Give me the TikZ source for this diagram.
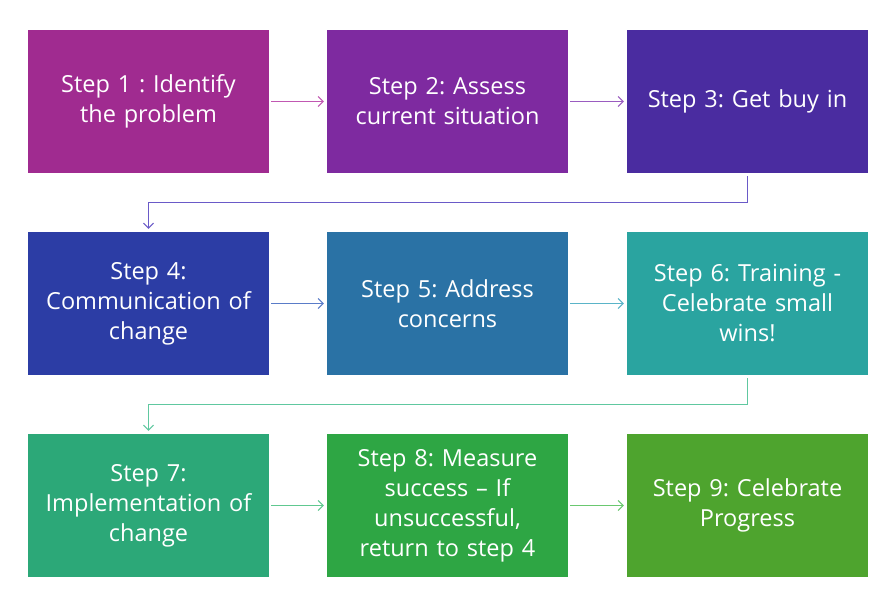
\documentclass[tikz,border=0pt]{standalone}
\usepackage{fontspec}
\setmainfont{Open Sans}
\usetikzlibrary{arrows.meta}
\definecolor{c1}{HTML}{A02B90}
\definecolor{c2}{HTML}{7E2AA0}
\definecolor{c3}{HTML}{4A2CA0}
\definecolor{c4}{HTML}{2C3DA5}
\definecolor{c5}{HTML}{2A72A5}
\definecolor{c6}{HTML}{2AA4A0}
\definecolor{c7}{HTML}{2CA878}
\definecolor{c8}{HTML}{2EA644}
\definecolor{c9}{HTML}{4EA42E}
\definecolor{a1}{HTML}{C158B2}
\definecolor{a2}{HTML}{9A5CC0}
\definecolor{a3}{HTML}{6A5AC8}
\definecolor{a4}{HTML}{5A7CC8}
\definecolor{a5}{HTML}{5AB4C8}
\definecolor{a6}{HTML}{60C8A0}
\definecolor{a7}{HTML}{60C890}
\definecolor{a8}{HTML}{6AC870}
\tikzset{
  stepbox/.style={draw=none, minimum width=241pt, minimum height=143pt, text width=235pt,
    align=center, text=white, font=\fontsize{23.5}{30}\selectfont, inner sep=0pt},
  conn/.style={line width=1pt, -{Straight Barb[length=5pt,width=10pt]}}
}
\begin{document}
\frenchspacing
\begin{tikzpicture}[x=1pt,y=-1pt]
\useasboundingbox[fill=white] (0,0) rectangle (887,596);
\node[stepbox, fill=c1] (s1) at (148.5,101.5) {Step 1 : Identify\\the problem};
\node[stepbox, fill=c2] (s2) at (447.5,101.5) {Step 2: Assess\\current situation};
\node[stepbox, fill=c3] (s3) at (747.5,101.5) {Step 3: Get buy in};
\node[stepbox, fill=c4] (s4) at (148.5,303.5) {Step 4:\\Communication of\\change};
\node[stepbox, fill=c5] (s5) at (447.5,303.5) {Step 5: Address\\concerns};
\node[stepbox, fill=c6] (s6) at (747.5,303.5) {Step 6: Training -\\Celebrate small\\wins!};
\node[stepbox, fill=c7] (s7) at (148.5,505.5) {Step 7:\\Implementation of\\change};
\node[stepbox, fill=c8] (s8) at (447.5,505.5) {Step 8: Measure\\success – If\\unsuccessful,\\return to step 4};
\node[stepbox, fill=c9] (s9) at (747.5,505.5) {Step 9: Celebrate\\Progress};
\draw[conn, a1, shorten <=2pt, shorten >=3pt] (s1.east) -- (s2.west);
\draw[conn, a2, shorten <=2pt, shorten >=3pt] (s2.east) -- (s3.west);
\draw[conn, a3, shorten <=3pt, shorten >=3pt] (s3.south) -- ++(0,29.5) -| (s4.north);
\draw[conn, a4, shorten <=2pt, shorten >=3pt] (s4.east) -- (s5.west);
\draw[conn, a5, shorten <=2pt, shorten >=3pt] (s5.east) -- (s6.west);
\draw[conn, a6, shorten <=3pt, shorten >=3pt] (s6.south) -- ++(0,29.5) -| (s7.north);
\draw[conn, a7, shorten <=2pt, shorten >=3pt] (s7.east) -- (s8.west);
\draw[conn, a8, shorten <=2pt, shorten >=3pt] (s8.east) -- (s9.west);
\end{tikzpicture}
\end{document}
